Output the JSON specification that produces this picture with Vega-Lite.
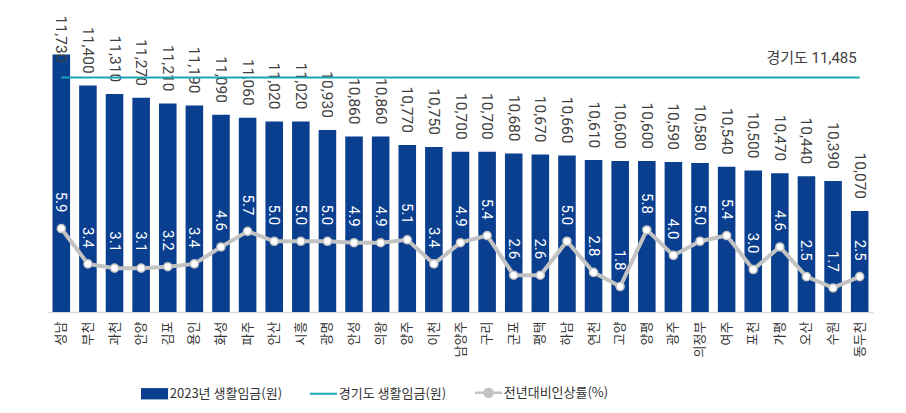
{
  "$schema": "https://vega.github.io/schema/vega-lite/v6.json",
  "width": 825,
  "height": 283,
  "autosize": {"type": "none"},
  "padding": {"left": 48, "top": 29, "right": 33, "bottom": 101},
  "background": "white",
  "config": {"view": {"stroke": null}, "font": "Roboto, Noto Sans CJK KR"},
  "data": {
    "values": [
      {"region": "성남", "wage": 11730, "rate": 5.9},
      {"region": "부천", "wage": 11400, "rate": 3.4},
      {"region": "과천", "wage": 11310, "rate": 3.1},
      {"region": "안양", "wage": 11270, "rate": 3.1},
      {"region": "김포", "wage": 11210, "rate": 3.2},
      {"region": "용인", "wage": 11190, "rate": 3.4},
      {"region": "화성", "wage": 11090, "rate": 4.6},
      {"region": "파주", "wage": 11060, "rate": 5.7},
      {"region": "안산", "wage": 11020, "rate": 5.0},
      {"region": "시흥", "wage": 11020, "rate": 5.0},
      {"region": "광명", "wage": 10930, "rate": 5.0},
      {"region": "안성", "wage": 10860, "rate": 4.9},
      {"region": "의왕", "wage": 10860, "rate": 4.9},
      {"region": "양주", "wage": 10770, "rate": 5.1},
      {"region": "이천", "wage": 10750, "rate": 3.4},
      {"region": "남양주", "wage": 10700, "rate": 4.9},
      {"region": "구리", "wage": 10700, "rate": 5.4},
      {"region": "군포", "wage": 10680, "rate": 2.6},
      {"region": "평택", "wage": 10670, "rate": 2.6},
      {"region": "하남", "wage": 10660, "rate": 5.0},
      {"region": "연천", "wage": 10610, "rate": 2.8},
      {"region": "고양", "wage": 10600, "rate": 1.8},
      {"region": "양평", "wage": 10600, "rate": 5.8},
      {"region": "광주", "wage": 10590, "rate": 4.0},
      {"region": "의정부", "wage": 10580, "rate": 5.0},
      {"region": "여주", "wage": 10540, "rate": 5.4},
      {"region": "포천", "wage": 10500, "rate": 3.0},
      {"region": "가평", "wage": 10470, "rate": 4.6},
      {"region": "오산", "wage": 10440, "rate": 2.5},
      {"region": "수원", "wage": 10390, "rate": 1.7},
      {"region": "동두천", "wage": 10070, "rate": 2.5}
    ]
  },
  "encoding": {
    "x": {
      "field": "region",
      "type": "nominal",
      "sort": null,
      "scale": {"paddingInner": 0.34, "paddingOuter": 0.17},
      "axis": {
        "title": null,
        "labelAngle": -90,
        "labelFontSize": 13,
        "labelFont": "Noto Sans CJK KR",
        "labelColor": "#333333",
        "labelPadding": 9,
        "ticks": false,
        "domainColor": "#d9d9d9",
        "domainWidth": 1.5,
        "grid": false
      }
    }
  },
  "layer": [
    {
      "layer": [
        {
          "mark": {"type": "bar"},
          "encoding": {
            "y": {
              "field": "wage",
              "type": "quantitative",
              "scale": {"domain": [9000, 12000], "nice": false, "zero": false},
              "axis": {
                "orient": "left",
                "title": null,
                "values": [9000, 9500, 10000, 10500, 11000, 11500, 12000],
                "format": "d",
                "labelFontSize": 5,
                "labelColor": "#999999",
                "ticks": false,
                "domain": false,
                "grid": false,
                "labelPadding": 6
              }
            },
            "y2": {"datum": 9000},
            "color": {
              "datum": "2023년 생활임금(원)",
              "scale": {
                "domain": ["2023년 생활임금(원)", "경기도 생활임금(원)", "전년대비인상률(%)"],
                "range": ["#0a3f8f", "#19a6b7", "#c3c3c3"]
              },
              "legend": {
                "orient": "none",
                "legendX": 100,
                "legendY": 357,
                "direction": "horizontal",
                "title": null,
                "symbolSize": 729,
                "labelFontSize": 13,
                "labelFont": "Noto Sans CJK KR",
                "labelColor": "#333333",
                "labelOffset": 8.75,
                "columnPadding": 23,
                "padding": 0,
                "encode": {
                  "symbols": {
                    "update": {
                      "shape": {"signal": "datum.value === '2023년 생활임금(원)' ? 'M-1,-0.42H1V0.42H-1Z' : (datum.value === '경기도 생활임금(원)' ? 'M-1,0H1' : 'M-1,0H-0.3M0.3,0H1M-0.3,0A0.3,0.3 0 1,1 0.3,0A0.3,0.3 0 1,1 -0.3,0Z')"},
                      "fill": {"signal": "datum.value === '2023년 생활임금(원)' ? '#0a3f8f' : (datum.value === '경기도 생활임금(원)' ? 'transparent' : '#ffffff')"},
                      "stroke": {"signal": "datum.value === '2023년 생활임금(원)' ? 'transparent' : (datum.value === '경기도 생활임금(원)' ? '#19a6b7' : '#c3c3c3')"},
                      "strokeWidth": {"signal": "datum.value === '2023년 생활임금(원)' ? 0 : (datum.value === '경기도 생활임금(원)' ? 2 : 2.5)"},
                      "opacity": {"value": 1},
                      "fillOpacity": {"value": 1},
                      "strokeOpacity": {"value": 1}
                    }
                  }
                }
              }
            }
          }
        },
        {
          "transform": [{"filter": "datum.region !== '성남'"}],
          "mark": {"type": "text", "angle": 90, "align": "right", "baseline": "middle", "dx": -12, "fontSize": 15.5, "font": "Roboto", "color": "#404040"},
          "encoding": {
            "y": {"field": "wage", "type": "quantitative", "axis": null},
            "text": {"field": "wage", "type": "quantitative", "format": ","}
          }
        },
        {
          "transform": [{"filter": "datum.region === '성남'"}],
          "mark": {"type": "text", "angle": 90, "align": "right", "baseline": "middle", "dx": 8, "fontSize": 15.5, "font": "Roboto", "color": "#404040"},
          "encoding": {
            "y": {"field": "wage", "type": "quantitative", "axis": null},
            "text": {"field": "wage", "type": "quantitative", "format": ","}
          }
        },
        {
          "mark": {"type": "line", "strokeWidth": 2},
          "encoding": {
            "y": {"datum": 11485, "type": "quantitative", "axis": null},
            "color": {"datum": "경기도 생활임금(원)"}
          }
        },
        {
          "transform": [{"filter": "datum.region === '동두천'"}],
          "mark": {"type": "text", "text": "경기도 11,485", "align": "right", "baseline": "middle", "dx": -3, "dy": -20, "fontSize": 15, "color": "#404040"},
          "encoding": {
            "y": {"datum": 11485, "type": "quantitative", "axis": null}
          }
        }
      ]
    },
    {
      "layer": [
        {
          "mark": {"type": "line", "strokeWidth": 4},
          "encoding": {
            "y": {
              "field": "rate",
              "type": "quantitative",
              "scale": {"domain": [0, 20], "nice": false},
              "axis": {
                "orient": "right",
                "title": null,
                "values": [0, 2, 4, 6, 8, 10, 12, 14, 16, 18, 20],
                "labelFontSize": 5,
                "labelColor": "#999999",
                "ticks": false,
                "domain": false,
                "grid": false,
                "labelPadding": 6
              }
            },
            "color": {"datum": "전년대비인상률(%)"}
          }
        },
        {
          "mark": {"type": "point", "filled": true, "fill": "#ffffff", "stroke": "#c3c3c3", "strokeWidth": 1.5, "size": 65, "opacity": 1},
          "encoding": {
            "y": {"field": "rate", "type": "quantitative", "axis": null}
          }
        },
        {
          "mark": {"type": "text", "angle": 90, "align": "right", "baseline": "middle", "dx": -16, "fontSize": 15, "font": "Roboto", "color": "#ffffff"},
          "encoding": {
            "y": {"field": "rate", "type": "quantitative", "axis": null},
            "text": {"field": "rate", "type": "quantitative", "format": ".1f"}
          }
        }
      ]
    }
  ],
  "resolve": {"scale": {"y": "independent"}}
}
